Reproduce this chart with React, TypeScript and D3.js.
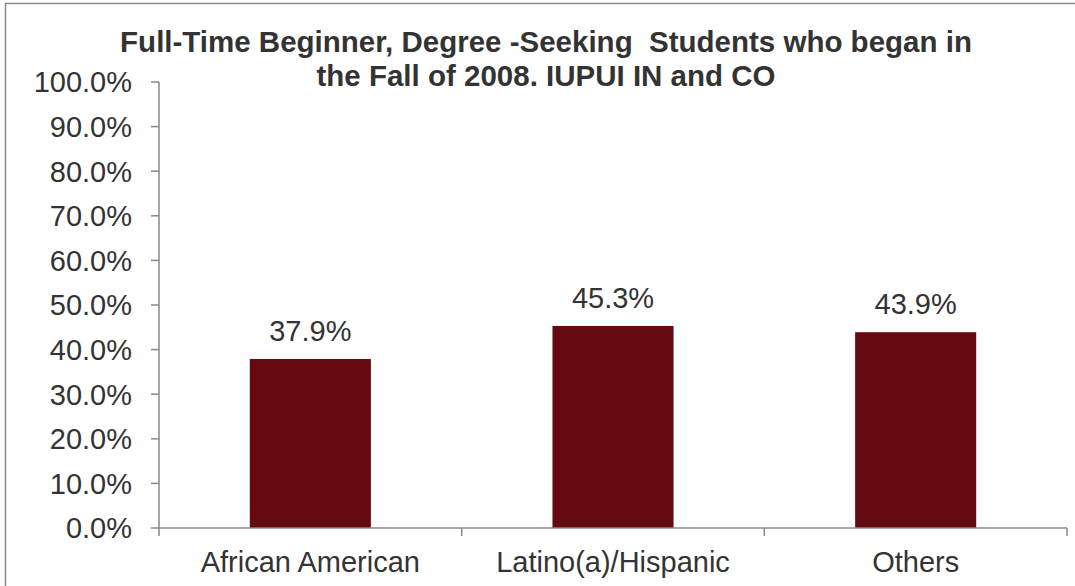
import * as d3 from 'd3'

const categories = ['African American', 'Latino(a)/Hispanic', 'Others']
const rates = [37.9, 45.3, 43.9]
const yTicks = [0, 10, 20, 30, 40, 50, 60, 70, 80, 90, 100]
const titleLines = ['Full-Time Beginner, Degree -Seeking  Students who began in', 'the Fall of 2008. IUPUI IN and CO']

const W = 1075
const H = 586
const margin = { top: 82, right: 8, bottom: 58, left: 159 }
const FONT = 'Liberation Sans, Arial, sans-serif'
const TEXT = '#333333'
const AXIS = '#888888'
const BAR = '#650a11'
const FS = 29

export default function App() {
    const x = d3
        .scaleBand()
        .domain(categories)
        .range([margin.left, W - margin.right])
        .paddingInner(0.6)
        .paddingOuter(0.3)
    const step = x.step()
    const y = d3.scaleLinear().domain([0, 100]).range([H - margin.bottom, margin.top])
    const x0 = margin.left
    const x1 = W - margin.right
    const yBase = y(0)
    const fmt = (v: number) => v.toFixed(1) + '%'

    return (
        <svg width={W} height={H} style={{ position: 'absolute', left: 0, top: 0 }} fontFamily={FONT}>
            <rect x={0} y={0} width={W} height={H} fill="#ffffff" />
            <rect x={5.5} y={3.5} width={W + 20} height={H + 20} fill="none" stroke={AXIS} strokeWidth={1.5} />

            {/* title */}
            {titleLines.map((t, i) => (
                <text
                    key={i}
                    x={546}
                    y={52 + i * 33.5}
                    textAnchor="middle"
                    fontSize={29.5}
                    fontWeight="bold"
                    fill={TEXT}
                    style={{ whiteSpace: 'pre' }}
                >
                    {t}
                </text>
            ))}

            {/* y axis */}
            <line x1={x0} x2={x0} y1={y(100)} y2={yBase} stroke={AXIS} strokeWidth={1.5} />
            {yTicks.map(t => (
                <g key={t}>
                    <line x1={x0 - 8} x2={x0} y1={y(t)} y2={y(t)} stroke={AXIS} strokeWidth={1.5} />
                    <text x={132} y={y(t)} dy="0.36em" textAnchor="end" fontSize={FS} fill={TEXT}>
                        {fmt(t)}
                    </text>
                </g>
            ))}

            {/* bars */}
            {categories.map((c, i) => (
                <g key={c}>
                    <rect x={x(c)} y={y(rates[i])} width={x.bandwidth()} height={yBase - y(rates[i])} fill={BAR} />
                    <text x={x(c) + x.bandwidth() / 2} y={y(rates[i]) - 18} textAnchor="middle" fontSize={FS} fill={TEXT}>
                        {fmt(rates[i])}
                    </text>
                </g>
            ))}

            {/* x axis */}
            <line x1={x0} x2={x1} y1={yBase} y2={yBase} stroke={AXIS} strokeWidth={1.5} />
            {d3.range(categories.length + 1).map(i => (
                <line key={i} x1={x0 + i * step} x2={x0 + i * step} y1={yBase} y2={yBase + 8} stroke={AXIS} strokeWidth={1.5} />
            ))}
            {categories.map(c => (
                <text key={c} x={x(c) + x.bandwidth() / 2} y={572} textAnchor="middle" fontSize={FS} fill={TEXT}>
                    {c}
                </text>
            ))}
        </svg>
    )
}
